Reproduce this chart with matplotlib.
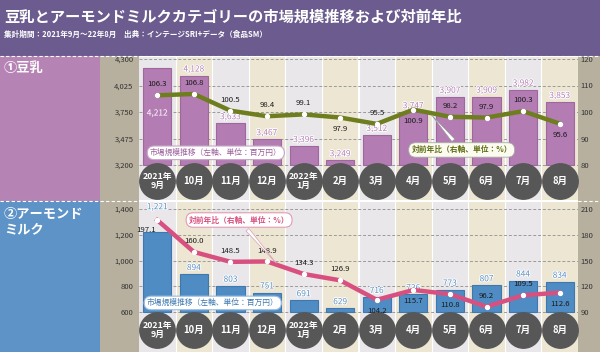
import numpy as np
import matplotlib.pyplot as plt
import matplotlib.patheffects as pe
from matplotlib.patches import Rectangle
from matplotlib.lines import Line2D

plt.rcParams['font.family'] = ['Noto Sans CJK JP', 'DejaVu Sans']

# data
months = ['2021年\n9月', '10月', '11月', '12月', '2022年\n1月', '2月', '3月',
          '4月', '5月', '6月', '7月', '8月']
soy_size = [4212, 4128, 3633, 3467, 3396, 3249, 3512, 3747, 3907, 3909, 3982, 3853]
soy_yoy = [106.3, 106.8, 100.5, 98.4, 99.1, 97.9, 95.5, 100.9, 98.2, 97.9, 100.3, 95.6]
almond_size = [1221, 894, 803, 751, 691, 629, 716, 736, 773, 807, 844, 834]
almond_yoy = [197.1, 160.0, 148.5, 148.9, 134.3, 126.9, 104.2, 115.7, 110.8, 96.2, 109.5, 112.6]

soy_lticks = [3200, 3475, 3750, 4025, 4300]
soy_rticks = [80, 90, 100, 110, 120]
almond_lticks = [600, 800, 1000, 1200, 1400]
almond_rticks = [90, 120, 150, 180, 210]

# label placement (style only): a = above, b = below, l = left-below
soy_yoy_pos = ['a', 'a', 'a', 'a', 'a', 'b', 'a', 'b', 'a', 'a', 'a', 'b']
almond_yoy_pos = ['l', 'a', 'a', 'a', 'a', 'a', 'b', 'b', 'b', 'a', 'a', 'b']

W, H = 600, 352
fig = plt.figure(figsize=(6, 3.52), dpi=100)


def rect(x0, y0, x1, y1):
    return [x0 / W, 1 - y1 / H, (x1 - x0) / W, (y1 - y0) / H]


def fig_rect(x0, y0, x1, y1, color):
    r = rect(x0, y0, x1, y1)
    fig.add_artist(Rectangle((r[0], r[1]), r[2], r[3], transform=fig.transFigure,
                             facecolor=color, edgecolor='none', zorder=0))


# backgrounds
fig_rect(0, 0, 600, 56, '#6b5b8e')
fig_rect(0, 56, 100, 201, '#b584b4')
fig_rect(0, 201, 100, 352, '#5d93c6')
fig_rect(100, 56, 139, 352, '#b7b09f')
fig_rect(578, 56, 600, 352, '#b7b09f')
for yy in [56, 201]:
    fig.add_artist(Line2D([0, 1], [1 - yy / H] * 2, transform=fig.transFigure,
                          color='white', lw=0.8, ls=(0, (3, 2)), zorder=5))

fig.text(4 / W, 1 - 17 / H, '豆乳とアーモンドミルクカテゴリーの市場規模推移および対前年比',
         color='white', fontsize=11, fontweight='bold', va='center', ha='left')
fig.text(4 / W, 1 - 34 / H, '集計期間：2021年9月～22年8月　出典：インテージSRI+データ（食品SM）',
         color='white', fontsize=5.5, fontweight='bold', va='center', ha='left')
fig.text(4 / W, 1 - 68 / H, '①豆乳', color='white', fontsize=9.5,
         fontweight='bold', va='center', ha='left')
fig.text(4 / W, 1 - 222 / H, '②アーモンド\nミルク', color='white', fontsize=9.5,
         fontweight='bold', va='center', ha='left', linespacing=1.1)


def panel(r, size, yoy, lticks, rticks, lylim, rylim, bar_c, bar_ec, lbl_c,
          line_c, yoy_pos, circ_y, size_dy):
    x = np.arange(len(months))
    ax = fig.add_axes(r)
    ax.set_xlim(-0.5, len(months) - 0.5)
    ax.set_ylim(*lylim)
    for i in x:
        ax.axvspan(i - 0.5, i + 0.5, color='#e9e7ea' if i % 2 == 0 else '#ede6d3',
                   zorder=0, lw=0)
        ax.axvline(i + 0.5, color='white', lw=0.8, zorder=0.5)
    for v in lticks:
        ax.axhline(v, color='#9a9a9a', lw=0.7, ls=(0, (3, 2)), zorder=1)
    base = lticks[0]
    ax.bar(x, np.array(size) - base, bottom=base, width=0.77, color=bar_c,
           edgecolor=bar_ec, lw=0.8, zorder=2)
    for i, v in enumerate(size):
        dy = size_dy.get(i, 1.5)
        c = 'white' if dy < 0 else lbl_c
        ax.annotate(f'{v:,}', (i, v), xytext=(0, dy), textcoords='offset points',
                    ha='center', va='bottom', fontsize=6, color=c, zorder=4,
                    path_effects=[pe.withStroke(linewidth=1.2,
                                                foreground=lbl_c if dy < 0 else 'white')])
    ax.set_yticks(lticks)
    ax.set_yticklabels([f'{t:,}' for t in lticks])
    ax.tick_params(axis='y', length=0, labelsize=5.5, pad=4, labelcolor='#333333')
    ax.set_xticks([])
    for s in ax.spines.values():
        s.set_visible(False)
    ax.scatter(x, [circ_y] * len(x), s=650, color='#575757', zorder=5,
               transform=ax.get_xaxis_transform(), clip_on=False)
    for i, m in enumerate(months):
        ax.text(i, circ_y, m, transform=ax.get_xaxis_transform(), ha='center',
                va='center', color='white', fontsize=6.3 if '\n' in m else 6.8,
                fontweight='bold', linespacing=0.95, zorder=6)

    ax2 = ax.twinx()
    ax2.set_ylim(*rylim)
    ax2.plot(x, yoy, color=line_c, lw=3.2, zorder=3, solid_joinstyle='round',
             marker='o', ms=2.8, mfc='white', mec='white')
    for i, v in enumerate(yoy):
        p = yoy_pos[i]
        off = {'a': (0, 5), 'b': (0, -11), 'l': (-8, -10)}[p]
        ax2.annotate(f'{v:.1f}', (i, v), xytext=off, textcoords='offset points',
                     ha='center', va='bottom', fontsize=5.6, color='#1a1a1a')
    ax2.set_yticks(rticks)
    ax2.tick_params(axis='y', length=0, labelsize=5.5, pad=2, labelcolor='#333333')
    for s in ax2.spines.values():
        s.set_visible(False)
    return ax, ax2


ax, ax2 = panel(rect(139, 57, 578, 200), soy_size, soy_yoy, soy_lticks, soy_rticks,
                (2837, 4321), (66.8, 120.75), '#b37db3', '#9e679e', '#b57fb5',
                '#6e7d1e', soy_yoy_pos, 0.133, {0: -36})
ax2.text(0.175, 0.33, '市場規模推移（左軸、単位：百万円）', transform=ax2.transAxes,
         ha='center', va='center', fontsize=5.6, color='#9b5f9b', zorder=7,
         bbox=dict(boxstyle='round,pad=0.35,rounding_size=0.9', fc='white',
                   ec='#c7a7c7', lw=0.8))
ax2.annotate('対前年比（右軸、単位：%）', xy=(7.45, 99.6), xycoords='data',
             xytext=(0.735, 0.35), textcoords='axes fraction', ha='center',
             va='center', fontsize=5.6, color='#5f6e14', fontweight='bold', zorder=7,
             bbox=dict(boxstyle='round,pad=0.35,rounding_size=0.9', fc='#fbfbf0',
                       ec='#aaaaaa', lw=0.6),
             arrowprops=dict(arrowstyle='wedge,tail_width=0.5', fc='white',
                             ec='#999999', lw=0.5))

bx, bx2 = panel(rect(139, 202, 578, 352), almond_size, almond_yoy, almond_lticks,
                almond_rticks, (289.3, 1454.4), (43.4, 218.2), '#4f8cc4', '#3f78ae',
                '#5a8fc2', '#d8507f', almond_yoy_pos, 0.145, {0: 15})
bx2.text(0.168, 0.327, '市場規模推移（左軸、単位：百万円）', transform=bx2.transAxes,
         ha='center', va='center', fontsize=5.6, color='#3f78ae', zorder=7,
         bbox=dict(boxstyle='round,pad=0.35,rounding_size=0.9', fc='white',
                   ec='#9bbbe0', lw=0.8))
bx2.annotate('対前年比（右軸、単位：%）', xy=(3.3, 144.5), xycoords='data',
             xytext=(0.228, 0.88), textcoords='axes fraction', ha='center',
             va='center', fontsize=5.6, color='#d8507f', fontweight='bold', zorder=7,
             bbox=dict(boxstyle='round,pad=0.35,rounding_size=0.9', fc='white',
                       ec='#e39ab5', lw=0.8),
             arrowprops=dict(arrowstyle='wedge,tail_width=0.5', fc='white',
                             ec='#d8a0b5', lw=0.5))

fig.savefig('out.png', dpi=100)
